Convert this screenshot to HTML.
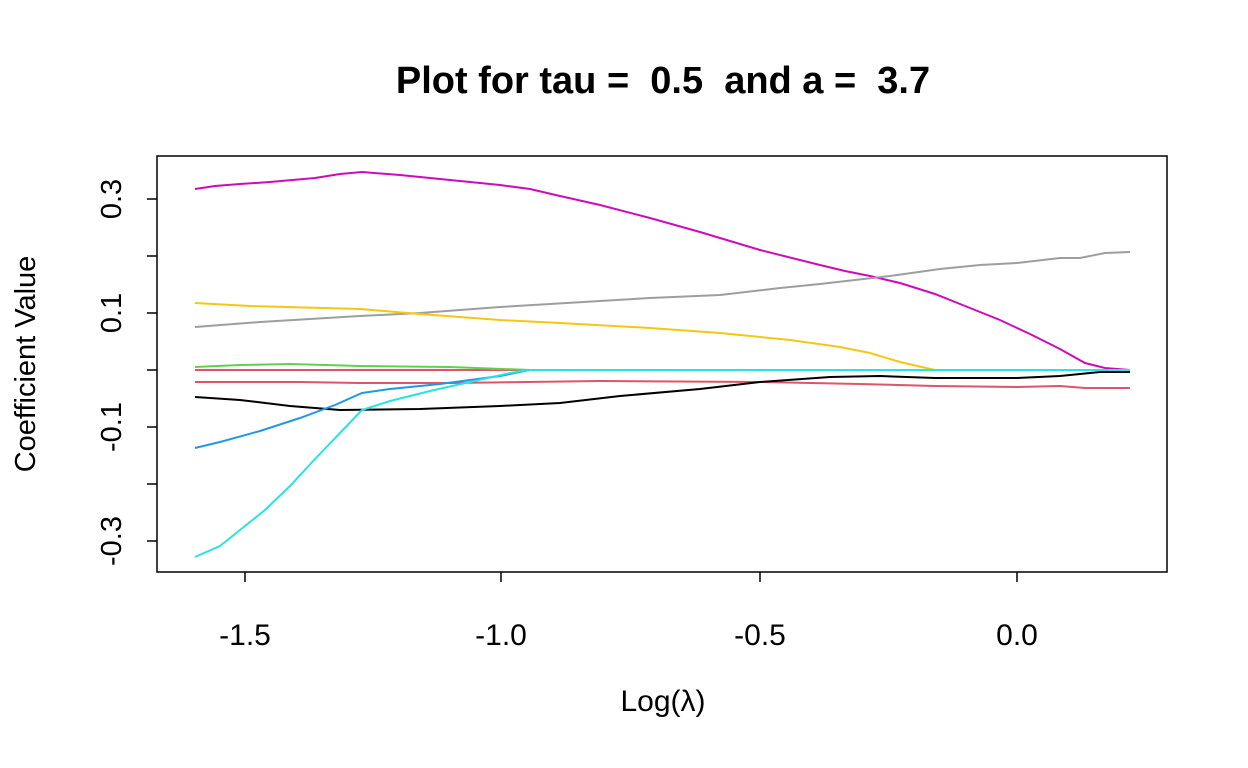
<!DOCTYPE html>
<html><head><meta charset="utf-8"><style>
html,body{margin:0;padding:0;background:#fff;}
svg{display:block;font-family:"Liberation Sans",sans-serif;}
</style></head><body>
<svg width="1248" height="768" xmlns="http://www.w3.org/2000/svg">
<rect width="1248" height="768" fill="#fff"/>
<text x="663" y="93" font-size="38" font-weight="bold" text-anchor="middle">Plot for tau =&#160; 0.5&#160; and a =&#160; 3.7</text>
<rect x="157" y="156" width="1010" height="416" fill="none" stroke="#000" stroke-width="1.5"/>
<g stroke="#000" stroke-width="1.5">
<line x1="245" y1="572" x2="245" y2="582"/><line x1="501" y1="572" x2="501" y2="582"/>
<line x1="760" y1="572" x2="760" y2="582"/><line x1="1017" y1="572" x2="1017" y2="582"/>
<line x1="157" y1="199" x2="147" y2="199"/><line x1="157" y1="256" x2="147" y2="256"/>
<line x1="157" y1="313" x2="147" y2="313"/><line x1="157" y1="370" x2="147" y2="370"/>
<line x1="157" y1="427" x2="147" y2="427"/><line x1="157" y1="484" x2="147" y2="484"/>
<line x1="157" y1="541" x2="147" y2="541"/>
</g>
<g font-size="30" text-anchor="middle">
<text x="245" y="645">-1.5</text><text x="501" y="645">-1.0</text>
<text x="760" y="645">-0.5</text><text x="1017" y="645">0.0</text>
<text x="663" y="711">Log(λ)</text>
<text transform="translate(121,199) rotate(-90)" font-size="29">0.3</text>
<text transform="translate(121,313) rotate(-90)" font-size="29">0.1</text>
<text transform="translate(121,427) rotate(-90)" font-size="29">-0.1</text>
<text transform="translate(121,541) rotate(-90)" font-size="29">-0.3</text>
<text transform="translate(35,364) rotate(-90)" font-size="29">Coefficient Value</text>
</g>
<g fill="none" stroke-width="2">
<polyline stroke="#df536b" points="195,370 1130,370"/>
<polyline stroke="#cd0bbc" points="195,189 215,186 240,184 270,182 315,178 340,174 362,172 400,175 450,180 500,185 530,189 560,196 600,205 650,218 700,232 760,250 820,265 845,271 870,276 900,283 935,294 970,308 1000,320 1030,334 1060,349 1085,363 1105,368 1130,370"/>
<polyline stroke="#9e9e9e" points="195,327 260,322 360,316 420,313 500,307 550,304 600,301 650,298 720,295 780,288 820,284 890,276 940,269 980,265 1017,263 1060,258 1080,258 1105,253 1130,252"/>
<polyline stroke="#f5c710" points="195,303 250,306 360,309 420,314 500,320 560,323 650,328 720,333 790,340 840,347 870,353 900,362 935,370 1130,370"/>
<polyline stroke="#61d04f" points="195,367 240,365 290,364 360,366 450,367 530,370 1130,370"/>
<polyline stroke="#df536b" points="195,382 300,382 360,383 450,383 600,381 760,382 860,384 935,386 1017,387 1060,386 1085,388 1130,388"/>
<polyline stroke="#000000" points="195,397 240,400 290,406 340,410 420,409 500,406 560,403 620,396 700,389 760,382 830,377 880,376 935,378 1017,378 1060,376 1100,372 1130,372"/>
<polyline stroke="#2297e6" points="195,448 220,442 260,431 300,418 335,405 362,393 390,389 440,384 500,376 530,370 1130,370"/>
<polyline stroke="#28e2e5" points="195,557 220,546 240,530 265,510 290,486 315,459 340,433 362,410 390,401 430,391 470,382 510,373 530,370 1130,370"/>
</g>
</svg>
</body></html>
